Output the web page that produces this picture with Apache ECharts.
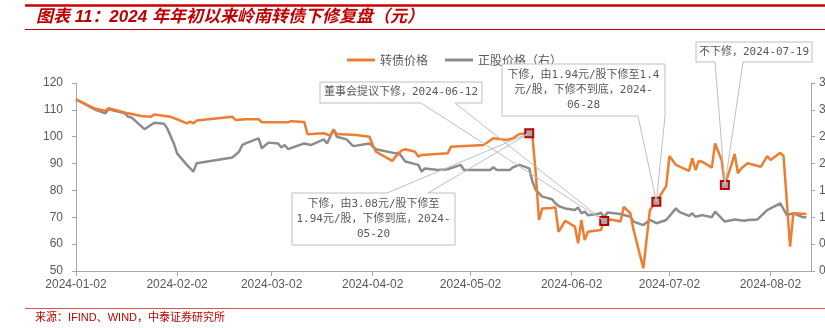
<!DOCTYPE html>
<html><head><meta charset="utf-8">
<script src="https://cdn.jsdelivr.net/npm/echarts@6/dist/echarts.min.js"></script>
<style>html,body{margin:0;padding:0;background:#fff}#c{width:825px;height:328px}</style>
</head><body><div id="c"></div>
<script>
// ---- data ----
const bondDates = ['2024-01-02','2024-01-08','2024-01-11','2024-01-12','2024-01-18','2024-01-22','2024-01-25','2024-01-26','2024-01-31','2024-02-02','2024-02-05','2024-02-06','2024-02-07','2024-02-08','2024-02-19','2024-02-20','2024-02-23','2024-02-27','2024-02-28','2024-03-07','2024-03-08','2024-03-12','2024-03-13','2024-03-18','2024-03-20','2024-03-21','2024-03-22','2024-03-28','2024-04-01','2024-04-02','2024-04-03','2024-04-08','2024-04-09','2024-04-11','2024-04-12','2024-04-15','2024-04-16','2024-04-17','2024-04-25','2024-04-26','2024-05-06','2024-05-09','2024-05-13','2024-05-15','2024-05-17','2024-05-20','2024-05-21','2024-05-22','2024-05-23','2024-05-24','2024-05-27','2024-05-28','2024-05-29','2024-05-31','2024-06-03','2024-06-04','2024-06-05','2024-06-06','2024-06-07','2024-06-11','2024-06-12','2024-06-14','2024-06-17','2024-06-18','2024-06-20','2024-06-21','2024-06-24','2024-06-26','2024-06-28','2024-07-01','2024-07-02','2024-07-04','2024-07-08','2024-07-09','2024-07-10','2024-07-11','2024-07-12','2024-07-15','2024-07-16','2024-07-18','2024-07-19','2024-07-21','2024-07-22','2024-07-23','2024-07-24','2024-07-26','2024-07-30','2024-08-01','2024-08-02','2024-08-05','2024-08-06','2024-08-08','2024-08-09','2024-08-13'];
const bondValues = [113.8,110.4,109.7,110.6,108.7,107.7,107.4,108.3,107.4,106.5,105,105.6,105,106,107.4,106.2,106.5,106.5,105.4,105.4,105.8,105.5,100.9,101.3,100.4,102.5,101,100.6,100,96.9,94.4,91,92.6,95,95.3,94.4,92.6,93.2,93.8,96.3,96.9,99.4,98.8,99.4,101,101.3,100,86.4,69,73.3,73.5,73.7,64.6,68.7,66.5,60.3,69,61.5,64.6,65.3,68.6,69.2,68.4,73.9,71.5,65.3,51,72.7,75.8,81.6,92.8,89.5,87.3,92,87.6,91,90.7,88.5,97.5,91.3,82,89.5,93.6,86.4,88.2,90.1,88.8,92.8,91.3,94,92.8,59.1,71.5,71.2];

const stockDates = ['2024-01-02','2024-01-08','2024-01-11','2024-01-12','2024-01-17','2024-01-18','2024-01-19','2024-01-23','2024-01-26','2024-01-29','2024-01-30','2024-02-01','2024-02-02','2024-02-05','2024-02-07','2024-02-08','2024-02-19','2024-02-21','2024-02-22','2024-02-23','2024-02-27','2024-02-28','2024-03-01','2024-03-04','2024-03-05','2024-03-06','2024-03-07','2024-03-12','2024-03-14','2024-03-18','2024-03-19','2024-03-21','2024-03-22','2024-03-25','2024-03-27','2024-04-01','2024-04-03','2024-04-09','2024-04-10','2024-04-12','2024-04-16','2024-04-17','2024-04-18','2024-04-22','2024-04-25','2024-04-29','2024-04-30','2024-05-08','2024-05-09','2024-05-10','2024-05-14','2024-05-15','2024-05-17','2024-05-20','2024-05-21','2024-05-22','2024-05-24','2024-05-27','2024-05-28','2024-05-29','2024-05-31','2024-06-03','2024-06-04','2024-06-05','2024-06-06','2024-06-07','2024-06-10','2024-06-11','2024-06-12','2024-06-13','2024-06-17','2024-06-20','2024-06-21','2024-06-24','2024-06-26','2024-06-28','2024-07-01','2024-07-04','2024-07-05','2024-07-08','2024-07-09','2024-07-10','2024-07-12','2024-07-15','2024-07-16','2024-07-19','2024-07-22','2024-07-25','2024-07-26','2024-07-29','2024-08-01','2024-08-05','2024-08-07','2024-08-09','2024-08-12','2024-08-13'];
const stockValues = [3.2,3.0,2.935,3.01,2.935,2.87,2.86,2.64,2.76,2.74,2.655,2.375,2.19,1.975,1.85,2.005,2.115,2.22,2.345,2.375,2.47,2.285,2.39,2.375,2.3,2.345,2.27,2.375,2.345,2.45,2.375,2.64,2.5,2.45,2.325,2.375,2.265,2.19,2.2,2.04,1.975,1.85,1.91,1.88,1.895,1.975,1.88,1.88,1.93,1.88,1.88,1.93,1.975,1.91,1.66,1.51,1.385,1.335,1.26,1.21,1.165,1.135,1.185,1.075,1.105,1.04,1.06,1.085,1.0,1.09,1.06,1.01,0.92,0.855,0.95,0.89,0.95,1.165,1.1,1.025,1.075,1.01,1.04,1.0,1.105,0.92,0.96,0.935,0.95,0.96,1.135,1.26,1.04,1.075,1.0,1.0];

const xTickLabels = ['2024-01-02','2024-02-02','2024-03-02','2024-04-02','2024-05-02','2024-06-02','2024-07-02','2024-08-02'];
const seriesNames = ['转债价格','正股价格（右）'];
const markerDates = ['2024-05-20','2024-06-12','2024-06-28','2024-07-19'];
const calloutTexts = [
  '下修，由3.08元/股下修至\n1.94元/股，下修到底，2024-\n05-20',
  '董事会提议下修，2024-06-12',
  '下修，由1.94元/股下修至1.4\n元/股，下修不到底，2024-\n06-28',
  '不下修，2024-07-19'
];
const titleText = '图表 11：2024 年年初以来岭南转债下修复盘（元）';
const sourceText = '来源：IFIND、WIND，中泰证券研究所';

// ---- helpers ----
function ts(s){const p=s.split('-').map(Number);return new Date(p[0],p[1]-1,p[2]).getTime();}
function pad(n){return n<10?'0'+n:''+n;}
function fmt(v){const d=new Date(v);return d.getFullYear()+'-'+pad(d.getMonth()+1)+'-'+pad(d.getDate());}

const ORANGE='#ed7d31', GRAY='#8c8c8c', AXIS='#a6a6a6', TXT='#595959', RED='#c00000';
const bondData = bondDates.map((d,i)=>[ts(d),bondValues[i]]);
const stockData = stockDates.map((d,i)=>[ts(d),stockValues[i]]);
const markerData = markerDates.map(d=>[ts(d), bondValues[bondDates.indexOf(d)]]);
const tickVals = xTickLabels.map(ts);

const chart = echarts.init(document.getElementById('c'), null, {renderer:'canvas'});
const latin = "'Liberation Sans', Arial, 'Noto Sans CJK SC', sans-serif";
chart.setOption({
  animation:false,
  backgroundColor:'#fff',
  grid:{left:76,right:14,top:83,bottom:57,containLabel:false,outerBoundsMode:'none'},
  legend:{
    data:seriesNames, left:342, top:49, itemWidth:28, itemHeight:3, itemGap:17, icon:'rect',
    textStyle:{color:TXT,fontSize:12,fontFamily:"'Noto Sans CJK SC', sans-serif"}
  },
  xAxis:{
    type:'value', min:ts('2024-01-02'), max:new Date(2024,7,14,10).getTime(),
    axisLine:{lineStyle:{color:AXIS,width:1}},
    axisTick:{show:true,customValues:tickVals,length:5,lineStyle:{color:AXIS}},
    axisLabel:{customValues:tickVals,formatter:v=>fmt(v),color:TXT,fontSize:12,fontFamily:latin,margin:8,showMinLabel:true,showMaxLabel:true},
    splitLine:{show:false}
  },
  yAxis:[
    {type:'value',min:50,max:120,interval:10,position:'left',
     axisLine:{show:true,lineStyle:{color:AXIS}},axisTick:{show:true,length:4,lineStyle:{color:AXIS}},
     axisLabel:{color:TXT,fontSize:12,fontFamily:latin,margin:13},splitLine:{show:false}},
    {type:'value',min:0,max:3.5,interval:0.5,position:'right',
     axisLine:{show:true,lineStyle:{color:AXIS}},axisTick:{show:true,length:4,lineStyle:{color:AXIS}},
     axisLabel:{color:TXT,fontSize:12,fontFamily:latin,margin:8,formatter:v=>v.toFixed(1)},splitLine:{show:false}}
  ],
  series:[
    {name:seriesNames[0],type:'line',data:bondData,yAxisIndex:0,showSymbol:false,symbol:'none',
     lineStyle:{color:ORANGE,width:2.5},itemStyle:{color:ORANGE},z:3},
    {name:seriesNames[1],type:'line',data:stockData,yAxisIndex:1,showSymbol:false,symbol:'none',
     lineStyle:{color:GRAY,width:2.5},itemStyle:{color:GRAY},z:2},
    {name:'marker',type:'scatter',data:markerData,yAxisIndex:0,symbol:'rect',symbolSize:8,
     itemStyle:{color:'#a6a6a6',borderColor:RED,borderWidth:2,opacity:1},z:10,silent:true}
  ]
});

// ---- callouts (box layout in pixels; tips come from the axes) ----
const callouts = [
  {box:[292,193,163,52], side:'top', base:[387,428], marker:0},
  {box:[320,82,162,21], side:'bottom', base:[421,455], marker:1},
  {box:[502,64,163,52], side:'bottom', base:[638,665], marker:2},
  {box:[696,42,116,20], side:'bottom', base:[715,743], marker:3}
];
const monoFont = "'DejaVu Sans Mono','Noto Sans CJK SC',monospace";
const graphics = [];
callouts.forEach((c,i)=>{
  const tip = chart.convertToPixel({xAxisIndex:0,yAxisIndex:0}, markerData[c.marker]);
  const [x,y,w,h] = c.box;
  graphics.push({type:'rect',shape:{x:x,y:y,width:w,height:h},style:{fill:'#fff',stroke:null},z:20});
  let pts;
  if(c.side==='top'){
    pts=[[x,y],[c.base[0],y],tip,[c.base[1],y],[x+w,y],[x+w,y+h],[x,y+h],[x,y]];
  } else {
    pts=[[x,y],[x+w,y],[x+w,y+h],[c.base[1],y+h],tip,[c.base[0],y+h],[x,y+h],[x,y]];
  }
  graphics.push({type:'polyline',shape:{points:pts},style:{stroke:'#bfbfbf',lineWidth:1,fill:null},z:21});
  graphics.push({type:'text',x:x+w/2,y:y+h/2,style:{text:calloutTexts[i],align:'center',verticalAlign:'middle',
    fontSize:11,lineHeight:15,fontFamily:monoFont,fill:TXT},z:22});
});
// title & rules & source
graphics.push({type:'line',shape:{x1:25,y1:5.5,x2:825,y2:5.5},style:{stroke:'#cc0000',lineWidth:2.5}});
graphics.push({type:'line',shape:{x1:25,y1:29.5,x2:825,y2:29.5},style:{stroke:'#cc0000',lineWidth:1}});
graphics.push({type:'text',x:36,y:17.5,style:{text:titleText,fontSize:17,fontWeight:'bold',fontStyle:'italic',
  fontFamily:"'Liberation Sans','Noto Sans CJK SC',sans-serif",fill:RED,verticalAlign:'middle'}});
graphics.push({type:'line',shape:{x1:25,y1:308.5,x2:825,y2:308.5},style:{stroke:'#d9534f',lineWidth:1}});
graphics.push({type:'text',x:35,y:318,style:{text:sourceText,fontSize:11,
  fontFamily:"'Liberation Sans','Noto Sans CJK SC',sans-serif",fill:RED,verticalAlign:'middle'}});
chart.setOption({graphic:graphics});
</script></body></html>
